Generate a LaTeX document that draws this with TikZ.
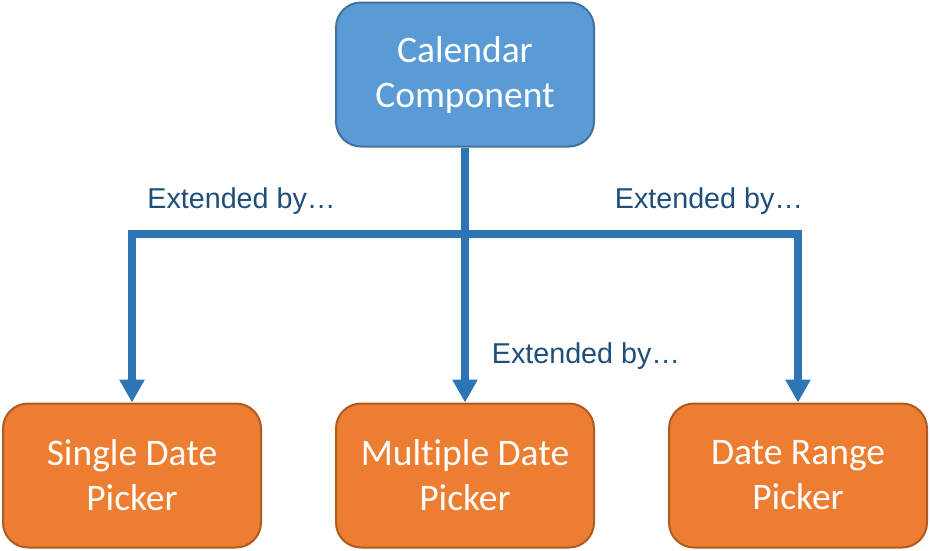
\documentclass[tikz,border=0pt]{standalone}
\usepackage{fontspec}
\setmainfont{Liberation Sans}
\newfontfamily\boxfont[Ligatures=NoCommon]{Carlito}
\usepackage{xcolor}
\usetikzlibrary{arrows.meta,positioning,calc}
\definecolor{compblue}{HTML}{5B9BD5}
\definecolor{compedge}{HTML}{41719C}
\definecolor{pickorange}{HTML}{ED7D31}
\definecolor{pickedge}{HTML}{AE5A21}
\definecolor{linkblue}{HTML}{2E75B6}
\definecolor{labelblue}{HTML}{1F4E79}

\begin{document}
\begin{tikzpicture}[
    x=1pt, y=-1pt,
    box/.style={draw, line width=2pt, rounded corners=25pt, minimum width=258pt, minimum height=144pt,
        align=center, text=white, font=\boxfont\fontsize{37.5}{45}\selectfont},
    arrow/.style={-{Triangle[width=24pt,length=23pt]}, line width=8pt, draw=linkblue},
    extlabel/.style={anchor=base, text=labelblue, font=\fontsize{28.7}{34}\selectfont}
]
    \useasboundingbox (0,0) rectangle (930,550);

    % Base component
    \node[box, fill=compblue, draw=compedge] (calendar) at (465,74.5) {Calendar\\Component};

    % Pickers
    \node[box, fill=pickorange, draw=pickedge, below=255pt of calendar] (multiple) {Multiple Date\\Picker};
    \node[box, fill=pickorange, draw=pickedge, left=73pt of multiple] (single) {Single Date\\Picker};
    \node[box, fill=pickorange, draw=pickedge, right=73pt of multiple] (range) {Date Range\\Picker};

    % Fork point
    \coordinate[below=86pt of calendar.south] (fork);

    % Arrows
    \draw[arrow] (calendar.south) -- (fork) -| (single.north);
    \draw[arrow] (calendar.south) -- (fork) -| (range.north);
    \draw[arrow] (calendar.south) -- (multiple.north);

    % Labels
    \node[extlabel] (extsingle) at (241.5,208) {Extended by…};
    \node[extlabel] (extrange) at (709,208) {Extended by…};
    \node[extlabel] (extmultiple) at (586,363) {Extended by…};

\end{tikzpicture}
\end{document}
